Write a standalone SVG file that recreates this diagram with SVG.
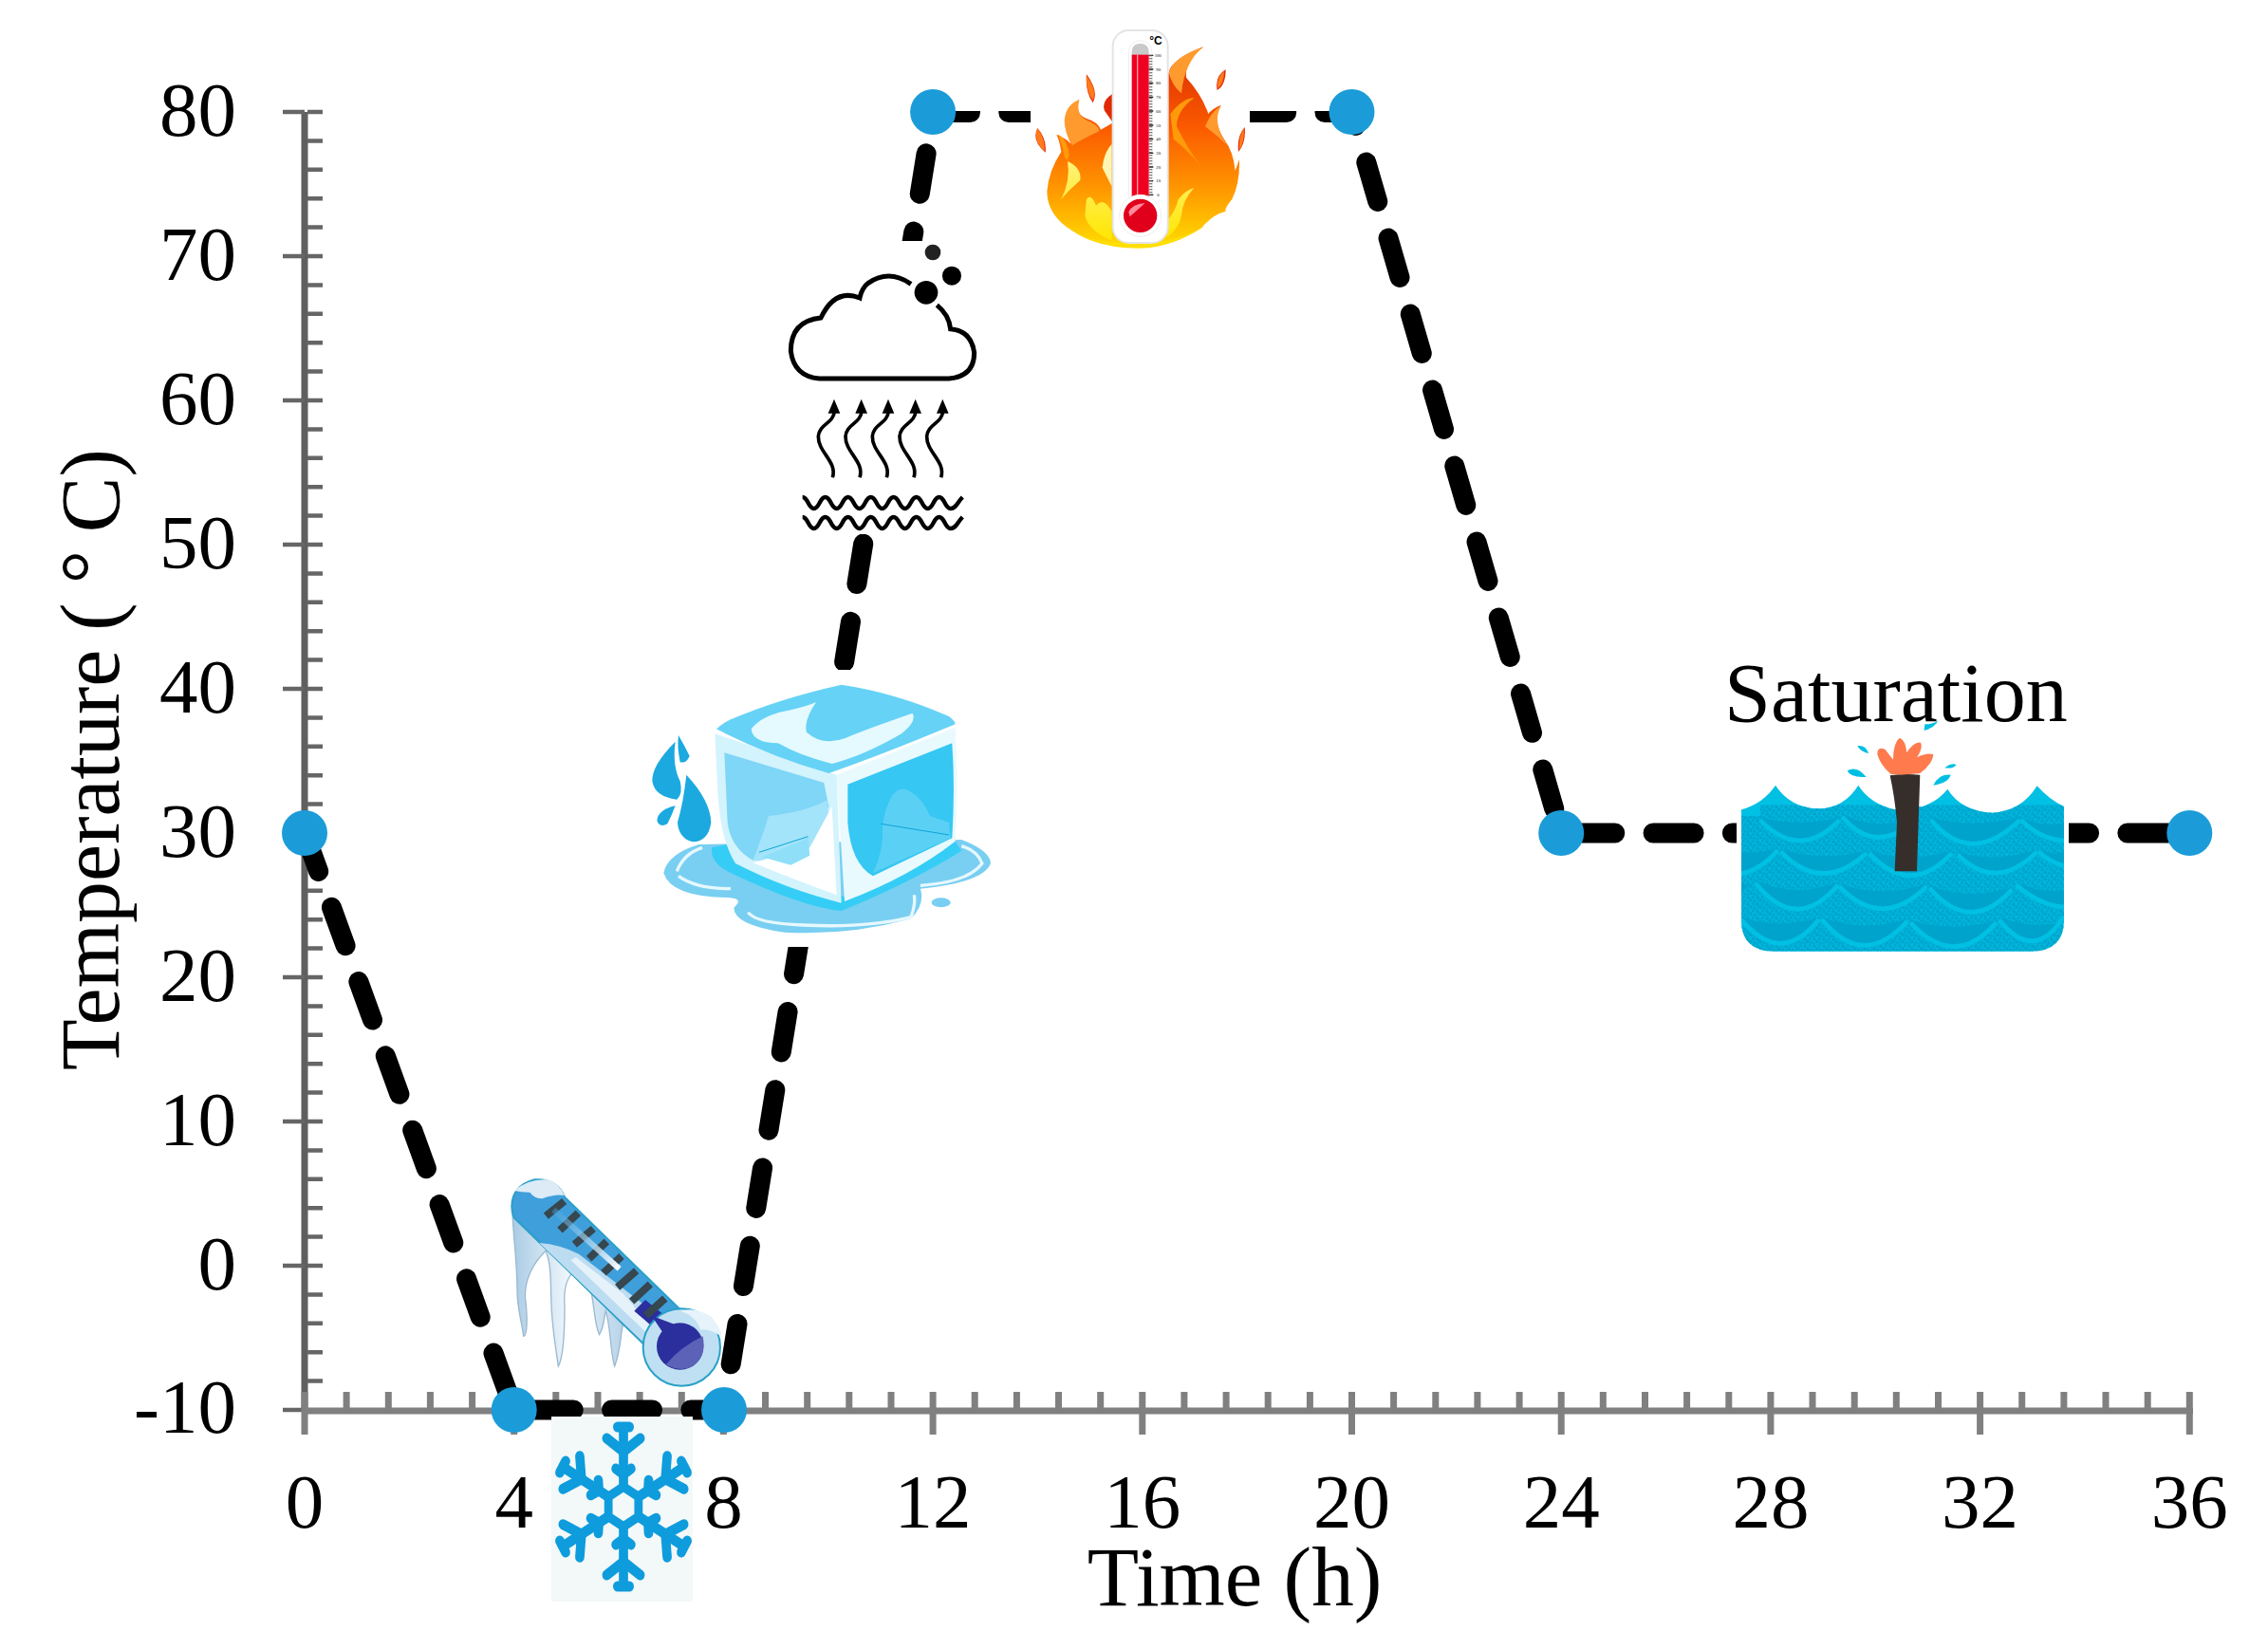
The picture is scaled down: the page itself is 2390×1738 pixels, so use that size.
<svg xmlns="http://www.w3.org/2000/svg" xmlns:xlink="http://www.w3.org/1999/xlink" width="2390" height="1738" viewBox="0 0 2390 1738">
<style>
text{font-family:"Liberation Serif","Times New Roman",serif;fill:#000}
.tk{font-size:81px}
.yt{text-anchor:end}
.xt{text-anchor:middle}
.ttl{font-size:88px}
.pt{fill:#1b9cd8}
.wv{fill:none;stroke:#000;stroke-width:13}
.sq{fill:none;stroke:#000;stroke-width:11}
.sc{fill:#00a3cc}
.st{fill:url(#stip)}
.dr{fill:#00bfe3}
.fing{fill:#ff7a4d}
.mk{stroke:#37474f;stroke-width:24;fill:none}
.fl{fill:none;stroke:#0e9cdd;stroke-width:11}
.wh{fill:#fff}
</style>
<defs>
<clipPath id="plot"><rect x="290" y="117" width="2060" height="1500"/></clipPath>
<clipPath id="wc"><path d="M105,520 Q175,500 213,443 Q260,515 350,517 Q430,515 475,443 Q510,500 590,520 L680,510 Q730,490 757,455 Q800,525 900,530 Q990,525 1040,445 Q1080,490 1125,510 L1125,870 Q1125,968 1020,968 L210,968 Q105,968 105,870 Z"/></clipPath>
<pattern id="stip" width="30" height="22" patternUnits="userSpaceOnUse"><rect width="30" height="22" fill="#00a3cc" opacity=".35"/><circle cx="6" cy="6" r="5" fill="#00a3cc"/><circle cx="22" cy="4" r="4" fill="#00a3cc"/><circle cx="15" cy="14" r="5.5" fill="#00a3cc"/><circle cx="27" cy="17" r="4.5" fill="#00a3cc"/><circle cx="5" cy="19" r="3" fill="#00a3cc"/></pattern>
<linearGradient id="flame" x1="0" y1="0" x2="0" y2="1"><stop offset="0" stop-color="#d92a00"/><stop offset=".4" stop-color="#fb5a00"/><stop offset=".72" stop-color="#ff9a00"/><stop offset="1" stop-color="#ffdf00"/></linearGradient>
<linearGradient id="yel" x1="0" y1="0" x2="0" y2="1"><stop offset="0" stop-color="#fff27a"/><stop offset="1" stop-color="#ffe600"/></linearGradient>
<linearGradient id="ice" x1="0" y1="0" x2="1" y2="0"><stop offset="0" stop-color="#a9cbe4"/><stop offset=".5" stop-color="#eef6fb"/><stop offset="1" stop-color="#b7d3e8"/></linearGradient>
<linearGradient id="stripe" gradientUnits="userSpaceOnUse" x1="240" y1="215" x2="460" y2="410"><stop offset="0" stop-color="#3f9fdb" stop-opacity=".4"/><stop offset="1" stop-color="#fff"/></linearGradient>
<g id="arm">
<path class="fl" d="M0,-22 V-86"/>
<path class="fl" d="M-20,-72 L0,-58 L20,-72" stroke-linecap="round"/>
<path class="fl" d="M-9,-40 L0,-34 L9,-40" stroke-linecap="round"/>
<path class="fl" d="M-7,-84 L7,-84" stroke-linecap="round"/>
</g>
<path id="squig" class="sq" d="M232,850 C248,800 186,770 187,720 C190,680 235,680 238,640"/>
<path id="head" d="M218,647 L237,602 L256,647 Z"/>
<path id="wave" class="wv" d="M137,912 C155,912 155,948 173,948 S191,912 209,912 S227,948 245,948 S263,912 281,912 S299,948 317,948 S335,912 353,912 S371,948 389,948 S407,912 425,912 S443,948 461,948 S479,912 497,912 S515,948 533,948 S551,912 569,912 S587,948 605,948 S625,930 643,912"/>
</defs>

<rect width="2390" height="1738" fill="#fff"/>

<g id="axes">
<path d="M321,118 V1487" stroke="#5f5f5f" stroke-width="7" fill="none"/>
<path fill="none" stroke="#666" stroke-width="4.5" d="M324,1455.6h16M324,1425.2h16M324,1394.8h16M324,1364.4h16M324,1334h16M324,1303.6h16M324,1273.2h16M324,1242.8h16M324,1212.4h16M324,1182h16M324,1151.6h16M324,1121.2h16M324,1090.8h16M324,1060.4h16M324,1030h16M324,999.6h16M324,969.2h16M324,938.8h16M324,908.4h16M324,878h16M324,847.6h16M324,817.2h16M324,786.8h16M324,756.4h16M324,726h16M324,695.6h16M324,665.2h16M324,634.8h16M324,604.4h16M324,574h16M324,543.6h16M324,513.2h16M324,482.8h16M324,452.4h16M324,422h16M324,391.6h16M324,361.2h16M324,330.8h16M324,300.4h16M324,270h16M324,239.6h16M324,209.2h16M324,178.8h16M324,148.4h16M324,118h16"/>
<path fill="none" stroke="#666" stroke-width="4.5" d="M298,1486h23M298,1334h23M298,1182h23M298,1030h23M298,878h23M298,726h23M298,574h23M298,422h23M298,270h23M298,118h23"/>
<path d="M318,1487 H2311" stroke="#808080" stroke-width="7" fill="none"/>
<path fill="none" stroke="#808080" stroke-width="7" d="M365.1,1467V1487M409.3,1467V1487M453.4,1467V1487M497.6,1467V1487M585.8,1467V1487M630,1467V1487M674.1,1467V1487M718.3,1467V1487M806.5,1467V1487M850.7,1467V1487M894.8,1467V1487M939,1467V1487M1027.2,1467V1487M1071.4,1467V1487M1115.5,1467V1487M1159.7,1467V1487M1247.9,1467V1487M1292.1,1467V1487M1336.2,1467V1487M1380.4,1467V1487M1468.6,1467V1487M1512.8,1467V1487M1556.9,1467V1487M1601.1,1467V1487M1689.3,1467V1487M1733.5,1467V1487M1777.6,1467V1487M1821.8,1467V1487M1910,1467V1487M1954.2,1467V1487M1998.3,1467V1487M2042.5,1467V1487M2130.7,1467V1487M2174.9,1467V1487M2219,1467V1487M2263.2,1467V1487"/>
<path fill="none" stroke="#808080" stroke-width="7" d="M321,1467V1512M541.7,1467V1512M762.4,1467V1512M983.1,1467V1512M1203.8,1467V1512M1424.5,1467V1512M1645.2,1467V1512M1865.9,1467V1512M2086.6,1467V1512M2307.3,1467V1512"/>
</g>

<g id="labels">
<text class="tk yt" x="249" y="143">80</text>
<text class="tk yt" x="249" y="295">70</text>
<text class="tk yt" x="249" y="447">60</text>
<text class="tk yt" x="249" y="599">50</text>
<text class="tk yt" x="249" y="751">40</text>
<text class="tk yt" x="249" y="903">30</text>
<text class="tk yt" x="249" y="1055">20</text>
<text class="tk yt" x="249" y="1207">10</text>
<text class="tk yt" x="249" y="1359">0</text>
<text class="tk yt" x="249" y="1510">-10</text>
<text class="tk xt" x="321" y="1610">0</text>
<text class="tk xt" x="541.7" y="1610">4</text>
<text class="tk xt" x="762.4" y="1610">8</text>
<text class="tk xt" x="983.1" y="1610">12</text>
<text class="tk xt" x="1203.8" y="1610">16</text>
<text class="tk xt" x="1424.5" y="1610">20</text>
<text class="tk xt" x="1645.2" y="1610">24</text>
<text class="tk xt" x="1865.9" y="1610">28</text>
<text class="tk xt" x="2086.6" y="1610">32</text>
<text class="tk xt" x="2307.3" y="1610">36</text>
<text class="ttl xt" x="1301" y="1692" style="font-size:89px">Time (h)</text>
<text class="ttl" x="125" y="1128" transform="rotate(-90 125 1128)">Temperature <tspan dx="-2">(</tspan> <tspan dx="-2">°</tspan> <tspan dx="-3">C)</tspan></text>
<text class="ttl" x="1817" y="760">Saturation</text>
</g>

<g id="connectors" clip-path="url(#plot)">
<path d="M321,878 L541.7,1486 L762.4,1486 L983.1,118.5 L1424.5,118.5 L1645.2,878 L2307.3,878" fill="none" stroke="#000" stroke-width="21" stroke-linecap="round" stroke-linejoin="round" stroke-dasharray="43 40.3"/>
</g>

<g id="icon-cloud">
<rect class="wh" x="830" y="254" width="220" height="309"/>
<g transform="translate(800,220) scale(.3333)">
<path fill="none" stroke="#000" stroke-width="15" d="M480,238 Q410,190 345,235 Q325,250 318,282 Q240,250 195,345 Q100,355 100,450 Q110,530 190,537 L600,537 Q680,530 680,455 Q670,385 605,380 Q600,335 562,305"/>
<circle cx="549" cy="138" r="25" fill="#222"/><circle cx="609" cy="212" r="30"/><circle cx="528" cy="265" r="37"/>
<use xlink:href="#squig"/><use xlink:href="#head"/>
<use xlink:href="#squig" x="86"/><use xlink:href="#head" x="86"/>
<use xlink:href="#squig" x="171"/><use xlink:href="#head" x="171"/>
<use xlink:href="#squig" x="257"/><use xlink:href="#head" x="257"/>
<use xlink:href="#squig" x="343"/><use xlink:href="#head" x="343"/>
<use xlink:href="#wave"/><use xlink:href="#wave" y="63"/>
</g>
</g>

<g id="icon-ice">
<rect class="wh" x="680" y="706" width="360" height="292"/>
<g transform="translate(660,680) scale(.3333)">
<path fill="#79cff1" d="M118,720 Q130,660 230,630 L1060,615 Q1150,650 1152,690 Q1130,750 930,770 Q945,820 900,865 Q700,920 500,908 Q340,885 340,830 Q375,800 320,798 Q140,795 118,720Z"/>
<path fill="none" stroke="#e6f8fe" stroke-width="10" d="M160,715 Q180,660 240,640 M165,730 Q220,770 330,770 M385,845 Q410,880 560,885 Q760,895 900,860 Q915,820 910,790 M930,760 Q1080,750 1125,690 Q1110,650 1060,635"/>
<ellipse cx="995" cy="814" rx="30" ry="15" fill="#79cff1"/>
<path fill="#35cdf5" d="M270,640 L320,630 L700,800 L1040,620 L1060,650 Q900,750 680,840 Q560,830 330,720 Q265,690 270,640Z"/>
<path fill="#d3f3fd" d="M280,280 L665,410 L680,815 Q500,770 345,690 Q300,620 290,480 Z"/>
<path fill="#e8fafe" d="M665,410 L1040,260 Q1050,450 1040,620 Q900,730 690,810 Z"/>
<path fill="#7fd6f6" d="M310,340 L625,435 L640,510 L600,600 L400,680 Q330,640 320,560 Z"/>
<path fill="#a3e4fa" d="M450,540 Q560,530 635,490 L655,700 L560,695 L400,680 Q425,620 450,540Z"/>
<path fill="#fff" d="M400,688 L580,640 L650,510 L665,790 Q540,745 400,688Z"/>
<path fill="#8fdff8" d="M430,670 L575,610 L580,665 L520,695Z"/>
<path fill="#36c7f3" d="M700,440 L1030,310 Q1040,450 1030,610 L780,730 Q710,690 700,560Z"/>
<path fill="#5bd0f5" d="M810,570 Q830,450 880,455 Q930,470 960,540 L1020,560 L1025,610 L780,720 Q815,650 810,570Z"/>
<path fill="none" stroke="#0aa5d6" stroke-width="3" d="M805,565 L1020,600 M420,655 L575,605"/>
<path fill="#66d2f6" d="M285,265 Q300,250 330,235 Q480,170 680,125 Q850,150 1020,225 Q1040,240 1040,250 Q800,350 640,405 Q450,350 285,265Z"/>
<path fill="#e4fafe" d="M395,265 Q430,220 520,205 Q580,190 600,180 Q560,240 570,275 Q620,320 690,295 Q760,265 905,215 Q920,240 870,280 Q750,350 650,375 Q550,350 480,310 Q400,310 395,265Z"/>
<path fill="#1ba9e0" d="M165,285 Q160,320 170,370 Q190,375 200,350 Q185,320 165,285Z M155,305 Q80,380 82,430 Q90,480 160,488 Q180,470 170,430 Q145,380 155,305Z M190,410 Q265,490 268,560 Q260,620 210,622 Q165,610 162,560 Q180,500 190,410Z M155,508 Q100,520 97,555 Q105,578 130,565 Q145,535 155,508Z"/>
</g>
</g>

<g id="icon-hot">
<rect class="wh" x="1086" y="30" width="231" height="240"/>
<g transform="translate(1060,20) scale(.3333)">
<path fill="url(#flame)" d="M130,545 Q135,480 175,420 Q170,385 160,365 Q195,380 205,395 Q170,310 232,255 Q215,300 255,315 Q290,325 300,350 L335,330 L515,170 Q520,130 625,88 Q565,130 570,185 Q620,240 640,300 Q650,285 680,272 Q650,320 690,380 Q720,420 725,480 L738,445 Q740,520 715,570 Q690,600 695,608 Q650,620 620,660 Q520,725 420,725 Q290,725 210,670 Q130,620 130,545Z"/>
<path fill="#e12a05" d="M340,235 Q300,260 312,290 L340,330Z M255,175 Q250,230 275,265 Q295,230 255,175Z M100,345 Q80,385 125,422 Q130,380 100,345Z M695,160 Q660,180 668,225 Q695,210 695,160Z M755,342 Q730,370 735,420 Q760,390 755,342Z"/>
<path fill="#ff7a1a" d="M100,345 Q85,385 122,418 Q125,380 100,345Z M255,180 Q252,225 275,258 Q290,225 255,180Z M690,165 Q665,185 670,220 Q690,205 690,165Z M752,345 Q735,375 738,415 Q756,385 752,345Z"/>
<path fill="#ff9b2e" d="M185,320 Q190,270 232,255 Q220,305 255,320 Q295,335 295,355 Q240,380 210,400 Q185,360 185,320Z M515,170 Q530,120 625,88 Q565,135 555,235 Q525,210 515,170Z M630,340 Q650,290 680,275 Q650,330 700,400 Q670,370 630,340Z"/>
<path fill="#ff9a0a" d="M520,300 Q560,250 595,250 Q540,290 540,340 Q580,420 620,470 Q580,420 530,380Z M165,365 Q195,380 200,430 Q190,470 180,410Z"/>
<path fill="url(#yel)" d="M255,570 Q270,550 285,590 Q310,560 335,610 L335,700 Q260,670 250,620Z M510,640 Q540,600 545,570 Q570,540 595,535 Q560,570 555,620 Q550,660 510,690Z M195,450 Q240,470 235,510 Q200,540 175,570 Q205,510 195,450Z"/>
<path fill="#ffe000" d="M220,680 Q320,720 420,722 Q520,722 620,660 Q540,705 420,712 Q300,710 220,680Z"/>
<path fill="#fff5b0" d="M335,395 Q310,420 305,470 L335,530Z"/>
<rect x="338" y="36" width="174" height="672" rx="50" fill="#fff" stroke="#e4e4e4" stroke-width="6"/>
<rect x="388" y="68" width="74" height="540" rx="37" fill="#fff" stroke="#eee" stroke-width="3"/>
<path d="M398,115 V105 Q398,78 425,78 Q452,78 452,105 V115Z" fill="#c9c9c9"/>
<rect x="398" y="113" width="54" height="490" fill="#ef0020"/>
<rect x="414" y="113" width="4" height="470" fill="#ff9aa5"/>
<circle cx="425" cy="622" r="66" fill="#fff" stroke="#eee" stroke-width="3"/>
<circle cx="425" cy="622" r="53" fill="#e0001c"/>
<path d="M388,610 Q400,585 440,582 Q420,600 392,625Z" fill="#ff8a9a"/>
<path d="M452,115 H466 M452,159 H466 M452,203 H466 M452,247 H466 M452,291 H466 M452,336 H466 M452,380 H466 M452,424 H466 M452,468 H466 M452,512 H466 M452,556 H466" stroke="#222" stroke-width="4" fill="none"/>
<path d="M458,115 V556" stroke="#555" stroke-width="10" stroke-dasharray="3 6" fill="none"/>
<g font-size="14" fill="#333"><text x="470" y="120">100</text><text x="475" y="164">90</text><text x="475" y="208">80</text><text x="475" y="252">70</text><text x="475" y="296">60</text><text x="475" y="341">50</text><text x="475" y="385">40</text><text x="475" y="429">30</text><text x="475" y="473">20</text><text x="475" y="517">10</text><text x="478" y="561">0</text></g>
<text x="454" y="82" font-size="36" font-weight="bold" style="font-family:'Liberation Sans',sans-serif">°C</text>
</g>
</g>

<g id="icon-water">
<rect class="wh" x="1830" y="765" width="350" height="295"/>
<g transform="translate(1800,680) scale(.3333)">
<path fill="#00c0e4" d="M105,520 Q175,500 213,443 Q260,515 350,517 Q430,515 475,443 Q510,500 590,520 L680,510 Q730,490 757,455 Q800,525 900,530 Q990,525 1040,445 Q1080,490 1125,510 L1125,870 Q1125,968 1020,968 L210,968 Q105,968 105,870 Z"/>
<g clip-path="url(#wc)">
<path class="st" d="M105,540H1125V970H105Z M165,505H1125V540H165Z"/>
<path class="sc" d="M165,545 Q290,675 415,545 Q290,575 165,545Z M425,535 Q520,650 640,560 L640,550 Q520,585 425,535Z M705,545 Q830,695 985,545 Q830,580 705,545Z M990,545 Q1050,605 1125,610 V565 Q1050,575 990,545Z"/>
<path class="sc" d="M105,655 Q170,660 220,640 Q170,700 105,715Z M230,645 Q360,780 500,650 Q360,685 230,645Z M510,650 Q640,790 770,650 Q640,690 510,650Z M790,655 Q910,775 1040,645 Q910,690 790,655Z M1045,645 Q1085,680 1125,690 V655 Q1085,665 1045,645Z"/>
<path class="sc" d="M150,745 Q280,905 410,750 Q280,800 150,745Z M415,755 Q550,895 690,755 Q550,800 415,755Z M700,760 Q830,910 960,765 Q830,810 700,760Z M975,750 Q1050,815 1125,820 V775 Q1050,785 975,750Z M105,750 Q125,770 145,745 L105,780Z"/>
<path class="sc" d="M105,860 Q230,1010 350,860 Q230,900 105,860Z M360,860 Q490,1020 630,865 Q490,910 360,860Z M640,870 Q780,1020 910,870 Q780,910 640,870Z M920,860 Q1030,1000 1125,850 V875 Q1030,900 920,860Z"/>
<path fill="none" stroke="#00c0e4" stroke-width="14" d="M165,553 Q290,683 415,553 M425,543 Q520,658 640,568 M705,553 Q830,703 985,553 M990,553 Q1050,613 1125,618 M105,723 Q170,708 220,648 M230,653 Q360,788 500,658 M510,658 Q640,798 770,658 M790,663 Q910,783 1040,653 M1045,653 Q1085,688 1125,698 M150,753 Q280,913 410,758 M415,763 Q550,903 690,763 M700,768 Q830,918 960,773 M975,758 Q1050,823 1125,828 M105,868 Q230,1018 350,868 M360,868 Q490,1028 630,873 M640,878 Q780,1028 910,878 M920,868 Q1030,1008 1125,858"/>
</g>
<path fill="#352e2b" d="M575,412 Q620,405 670,410 L665,560 L660,715 L590,715 L597,560 Q590,480 575,412Z"/>
<path class="fing" d="M578,408 Q545,380 535,345 Q535,318 560,330 L585,362 Q585,310 605,293 Q625,300 628,340 Q650,305 672,308 Q680,325 660,355 Q690,340 712,345 Q710,375 670,405 Q620,412 578,408Z"/>
<path class="dr" d="M472,318 Q500,315 507,343 Q480,335 472,318Z M440,397 Q470,380 500,417 Q450,420 440,397Z M728,238 Q715,250 685,250 L683,270 Q715,262 728,238Z M785,378 Q770,370 748,388 Q775,392 785,378Z M767,410 Q730,405 712,443 Q760,435 767,410Z"/>
</g>
</g>

<g id="icon-cold">
<g transform="translate(500,1200) scale(.3333)">
<path fill="url(#ice)" stroke="#9bb9d1" stroke-width="4" d="M120,240 C125,330 135,400 135,480 C135,540 150,580 155,625 C168,625 168,560 160,500 C160,440 190,390 225,355 C245,400 240,470 243,520 C245,600 260,680 265,720 C282,690 285,600 285,530 C282,490 285,450 310,425 L370,490 C380,540 380,590 395,620 C412,590 410,560 415,545 C430,590 430,680 443,720 C465,660 460,620 470,590 L130,240Z"/>
<path fill="#3f9fdb" stroke="#2aa0c8" stroke-width="6" d="M118,215 Q118,150 190,130 Q260,125 285,185 L650,540 L540,655 L125,250 Q118,235 118,215Z"/>
<path fill="#bcdcf1" d="M205,330 Q270,335 330,365 L620,590 L640,590 L540,650 Z"/>
<path fill="#e6f2fa" d="M305,385 L320,375 L470,490 L570,610 L555,625Z"/>
<path fill="#dcebf5" d="M125,165 Q170,125 235,130 Q265,140 285,180 Q255,175 215,190 Q190,190 175,170 Q150,170 125,165Z"/>
<path class="mk" d="M226,245 L284,198 M270,290 L328,235 M316,335 L376,285 M362,380 L418,325 M408,425 L465,372"/>
<path class="mk" d="M452,470 L512,418 M497,515 L556,460 M542,560 L602,506"/>
<path d="M250,225 L458,412" stroke="url(#stripe)" stroke-width="18" fill="none"/>
<path fill="#2b2f9e" d="M505,545 L540,510 L640,590 L610,635Z"/>
<path class="mk" d="M542,560 L602,506"/>
<circle cx="655" cy="660" r="122" fill="#bfe0f2" stroke="#2aa0c8" stroke-width="6"/>
<path fill="#e6f3fa" d="M650,545 Q700,530 750,565 Q785,610 780,625 Q740,600 715,605 Q700,560 650,545Z"/>
<circle cx="650" cy="657" r="74" fill="#2b2f9e"/>
<path fill="#5b62b8" d="M605,715 Q650,660 722,625 Q735,690 690,720 Q650,740 605,715Z"/>
<path fill="#2b2f9e" d="M560,560 L640,590 L650,600 L610,635Z"/>
</g>
</g>

<g id="icon-snow">
<rect x="581" y="1493" width="149" height="195" fill="#f3f8f8"/>
<g transform="translate(657,1588) scale(.88,1)">
<path fill="none" stroke="#0e9cdd" stroke-width="10" d="M0,-21 L18,-10.5 V10.5 L0,21 L-18,10.5 V-10.5Z"/>
<use xlink:href="#arm"/>
<use xlink:href="#arm" transform="rotate(60)"/>
<use xlink:href="#arm" transform="rotate(120)"/>
<use xlink:href="#arm" transform="rotate(180)"/>
<use xlink:href="#arm" transform="rotate(240)"/>
<use xlink:href="#arm" transform="rotate(300)"/>
</g>
</g>

<g id="point-0"><circle class="pt" cx="321" cy="878" r="24"/></g>
<g id="point-4"><circle class="pt" cx="541.7" cy="1486" r="24"/></g>
<g id="point-8"><circle class="pt" cx="763" cy="1486" r="24"/></g>
<g id="point-12"><circle class="pt" cx="983.1" cy="118" r="24"/></g>
<g id="point-20"><circle class="pt" cx="1424.5" cy="118" r="24"/></g>
<g id="point-24"><circle class="pt" cx="1645.2" cy="878" r="24"/></g>
<g id="point-36"><circle class="pt" cx="2307.3" cy="878" r="24"/></g>
</svg>
